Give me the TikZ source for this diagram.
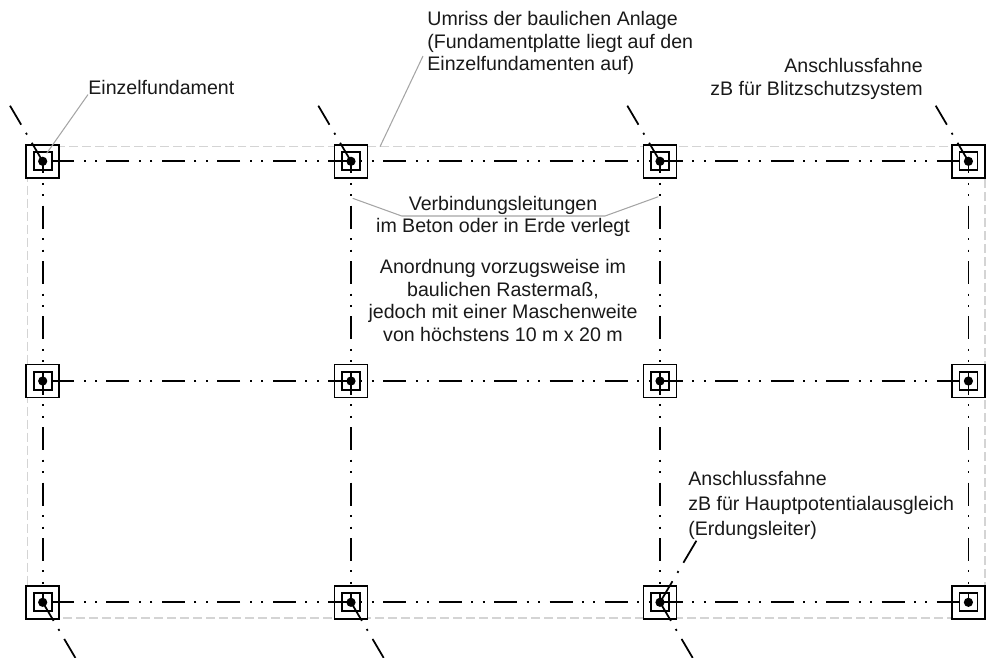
\documentclass[tikz,border=0pt]{standalone}
\usepackage{fontspec}
\setmainfont{Liberation Sans}
\definecolor{inkdark}{RGB}{25, 25, 25}
\definecolor{outlinegray}{RGB}{212, 212, 212}
\definecolor{leadergray}{RGB}{165, 165, 165}
\usetikzlibrary{calc}
\tikzset{
  fundbox/.style={draw=black, fill=white, line width=1pt, minimum size=0.66cm, inner sep=0pt, outer sep=0pt,
    path picture={
      \draw[line width=1pt] ($(path picture bounding box.center)+(-9,-9)$) rectangle ++(18,18);
      \fill[black] (path picture bounding box.center) circle (4.6);
    }},
  axisline/.style={line width=1pt, black, dash pattern=on 0.46cm off 0.1893cm on 0.04cm off 0.1893cm on 0.04cm off 0.1893cm},
  flagline/.style={line width=1pt, black, dash pattern=on 0.43cm off 0.19cm on 0.04cm off 0.19cm on 3cm},
  flaglong/.style={line width=1pt, black, dash pattern=on 0.49cm off 0.195cm on 0.04cm off 0.195cm on 3cm},
  outlineline/.style={outlinegray, line width=0.6pt, dash pattern=on 0.18cm off 0.08cm},
  leader/.style={leadergray, line width=0.6pt},
  caption/.style={font=\fontsize{11.15pt}{13pt}\selectfont, text=inkdark, inner sep=0pt}
}
\begin{document}
\begin{tikzpicture}[x=0.02cm, y=-0.02cm]
  \useasboundingbox (0,0) rectangle (989,657);

  % Outline of the building
  \draw[outlineline] (27.7,146.7) rectangle (985,618);

  % Foundations
  \node[fundbox] (f11) at (42.7,161.3) {};
  \node[fundbox] (f12) at (351,161.3) {};
  \node[fundbox] (f13) at (660,161.3) {};
  \node[fundbox] (f14) at (968.4,161.3) {};
  \node[fundbox] (f21) at (42.7,381) {};
  \node[fundbox] (f22) at (351,381) {};
  \node[fundbox] (f23) at (660,381) {};
  \node[fundbox] (f24) at (968.4,381) {};
  \node[fundbox] (f31) at (42.7,602.3) {};
  \node[fundbox] (f32) at (351,602.3) {};
  \node[fundbox] (f33) at (660,602.3) {};
  \node[fundbox] (f34) at (968.4,602.3) {};

  % Horizontal connections
  \draw[axisline] (f12.center) -- (f11.center);
  \draw[axisline, dash phase=0.46cm] (f12.center) -- (f13.center);
  \draw[axisline] (f13.center) -- (f14.center);
  \draw[axisline] (f22.center) -- (f21.center);
  \draw[axisline, dash phase=0.46cm] (f22.center) -- (f23.center);
  \draw[axisline] (f23.center) -- (f24.center);
  \draw[axisline] (f32.center) -- (f31.center);
  \draw[axisline, dash phase=0.46cm] (f32.center) -- (f33.center);
  \draw[axisline] (f33.center) -- (f34.center);

  % Vertical connections
  \draw[axisline, dash phase=0.22cm] (f11.center) -- (f31.center);
  \draw[axisline, dash phase=0.22cm] (f12.center) -- (f32.center);
  \draw[axisline, dash phase=0.22cm] (f13.center) -- (f33.center);
  \draw[axisline, dash phase=0.22cm] (f14.center) -- (f34.center);

  % Connection flags
  \coordinate (e11) at ($(f11)+(-32.7,-55.6)$);
  \coordinate (e12) at ($(f12)+(-32.7,-55.6)$);
  \coordinate (e13) at ($(f13)+(-32.7,-55.6)$);
  \coordinate (e14) at ($(f14)+(-32.7,-55.6)$);
  \coordinate (e31) at ($(f31)+(32.7,55.6)$);
  \coordinate (e32) at ($(f32)+(32.7,55.6)$);
  \coordinate (e33) at ($(f33)+(32.7,55.6)$);
  \coordinate (e3u) at ($(f33)+(36.4,-61.6)$);
  \draw[flagline] (f11.center) -- (e11);
  \draw[flagline] (f12.center) -- (e12);
  \draw[flagline] (f13.center) -- (e13);
  \draw[flagline] (f14.center) -- (e14);
  \draw[flagline] (f31.center) -- (e31);
  \draw[flagline] (f32.center) -- (e32);
  \draw[flagline] (f33.center) -- (e33);
  \draw[flaglong] (f33.center) -- (e3u);

  % Texts
  \node[caption, anchor=west] (einzel) at (88,87) {Einzelfundament};
  \node[caption, anchor=west, align=left] (umriss) at (427,43) {Umriss der baulichen Anlage\\(Fundamentplatte liegt auf den\\Einzelfundamenten auf)};
  \node[caption, anchor=east, align=right] (flagtop) at (923,79) {Anschlussfahne\\zB für Blitzschutzsystem};
  \node[caption, align=center] (verbindung) at (503,216.5) {Verbindungsleitungen\\im Beton oder in Erde verlegt};
  \node[caption, align=center] (anordnung) at (503,300.5) {Anordnung vorzugsweise im\\baulichen Rastermaß,\\jedoch mit einer Maschenweite\\ von höchstens 10 m x 20 m};
  \node[caption, anchor=west, align=left] (flagbottom) at (688,505.5) {Anschlussfahne\\[1pt]zB für Hauptpotentialausgleich\\[1pt](Erdungsleiter)};

  % Leader lines
  \coordinate (umrissend) at (380,146.7);
  \draw[leader] (einzel.south west) -- ($(f11)+(4,-8)$);
  \draw[leader] (umriss.west) ++(-4,13) -- (umrissend);
  \draw[leader] ($(f12)+(1.7,37)$) -- (401.7,216) -- (605,216) -- ($(f13)+(-1.7,35.4)$);
\end{tikzpicture}
\end{document}
